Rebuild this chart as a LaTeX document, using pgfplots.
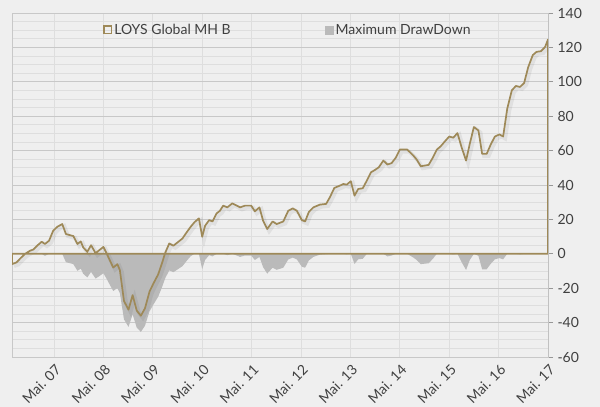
\documentclass[border=0pt]{standalone}
\usepackage{fontspec}
\setmainfont{Lato}
\usepackage{pgfplots}
\usepackage{pgfplotstable}
\pgfplotsset{compat=1.18}
\definecolor{bgc}{RGB}{239,239,239}
\definecolor{gold}{RGB}{158,137,88}
\definecolor{ddgray}{RGB}{186,186,186}
\definecolor{gridmaj}{RGB}{200,200,200}
\definecolor{gridmin}{RGB}{222,222,222}
\definecolor{axgray}{RGB}{150,150,150}
\definecolor{textc}{RGB}{64,64,64}

\pgfplotstableread{
m v dd
0 -6 0
1.1 -5 0
2.1 -2.5 0
3.2 0 0
4.4 1.8 0
5.2 2.5 0
6.1 4.7 0
7.2 7 0
8 5.7 -1.2
9 7.6 0
10 13.4 0
11 15.7 0
12.2 17.3 0
13.1 11.5 -4.9
14.3 10.7 -5.6
14.9 10.3 -6.0
15.9 5.7 -9.9
16.7 7.2 -8.6
17.3 3.7 -11.6
18.3 1.2 -13.7
19.2 5 -10.5
20.3 0.4 -14.4
21.2 2.1 -13.0
22.2 4 -11.3
23 0.2 -14.6
23.8 -4 -18.2
24.6 -8 -21.6
25.6 -6 -19.9
26.2 -9.5 -22.8
27.2 -27.4 -38.1
28.3 -32.5 -42.5
29.3 -24 -35.2
30.3 -33 -42.9
31.3 -36 -45.4
32.3 -31.7 -41.8
33.4 -22 -33.5
34.3 -17.5 -29.7
35.5 -12 -25.0
36.5 -5 -19.0
37.2 0.5 -14.3
38.2 6 -9.6
39.2 4.7 -10.7
40.2 6.6 -9.1
41.4 8.9 -7.2
42.4 12.4 -4.2
43.4 15.7 -1.4
44.3 18.3 0
45.4 20.6 0
46.2 9.9 -8.9
46.9 16.3 -3.6
47.9 19.6 -0.8
48.7 18.8 -1.5
49.7 23.5 0
50.5 25 0
51.3 28 0
52.3 27 -0.8
53.5 29.3 0
54.6 28 -1.0
55.4 27 -1.8
56.6 28 -1.0
58.1 28 -1.0
59 24.7 -3.6
60.1 27 -1.8
61 19.2 -7.8
62 14.4 -11.5
63.3 18.8 -8.1
64.3 17.3 -9.3
65.9 18.8 -8.1
67.1 25 -3.3
68.2 26.4 -2.2
69.2 25 -3.3
70.4 19.6 -7.5
71.2 18.8 -8.1
72.1 24.3 -3.9
73.2 27 -1.8
74.8 28.6 -0.5
76.3 29 -0.2
77.2 32.8 0
78.3 38.3 0
79.7 39.7 0
80.5 40.6 0
81.3 40.2 -0.3
82.3 42.2 0
83.2 33.8 -5.9
84.1 37.7 -3.2
85.2 38.1 -2.9
86.2 42.6 0
87.2 47.4 0
88.2 48.8 0
89.1 50.3 0
90.2 54.2 0
91.2 51.9 -1.5
92.2 52.7 -1.0
93.2 55.8 0
94.2 60.6 0
96 60.6 0
97.5 57.1 -2.2
98.3 54.8 -3.6
99.3 50.9 -6.0
101.2 51.7 -5.5
102.2 55.8 -3.0
103.2 60.6 0
104.1 62.4 0
105.2 65.5 0
106.2 68.2 0
107.2 67.5 -0.4
108.2 70.2 0
109.2 62 -4.8
110.3 54.2 -9.4
111.2 64 -3.6
112.2 73.7 0
113.3 71.7 -1.2
114.2 58.1 -9.0
115.3 58.1 -9.0
116.3 63.6 -5.8
117.3 68.2 -3.2
118.4 69.4 -2.5
119.3 68.2 -3.2
120.3 84.4 0
121.4 95 0
122.4 97.6 0
123.4 97 -0.3
124.4 99.3 0
125.4 108.6 0
126.5 115.5 0
127.4 117.4 0
128.5 117.8 0
129.5 120.3 0
130.2 124.6 0
}\datatab

\begin{document}
\begin{tikzpicture}
\path[use as bounding box, fill=bgc] (-12bp,-50bp) rectangle (588bp,357bp);
\begin{axis}[
  at={(0,0)}, anchor=south west,
  scale only axis, width=536bp, height=344bp,
  xmin=0, xmax=130.2, ymin=-60, ymax=140,
  xtick={10.2,22.2,34.2,46.2,58.2,70.2,82.2,94.2,106.2,118.2,130.2},
  xticklabels={Mai. 07,Mai. 08,Mai. 09,Mai. 10,Mai. 11,Mai. 12,Mai. 13,Mai. 14,Mai. 15,Mai. 16,Mai. 17},
  ytick={-60,-40,-20,0,20,40,60,80,100,120,140},
  yticklabels={-60,-40,-20,0,20,40,60,80,100,120,140},
  minor y tick num=3,
  xmajorgrids, ymajorgrids, yminorgrids,
  major x grid style={draw=gridmin, line width=0.9bp},
  major y grid style={draw=gridmaj, line width=0.9bp},
  minor y grid style={draw=gridmin, line width=0.9bp},
  axis line style={draw=gridmaj, line width=0.9bp},
  ytick pos=right, yticklabel pos=right,
  tick align=outside,
  major tick length=5bp, minor tick length=0pt,
  ytick style={draw=axgray, line width=0.8bp},
  xtick style={draw=none},
  minor tick style={draw=none},
  yticklabel style={font=\fontsize{14bp}{16bp}\selectfont, text=textc, xshift=1bp},
  xticklabel style={font=\fontsize{14bp}{16bp}\selectfont, text=textc, rotate=45, anchor=north east, xshift=3bp, yshift=2bp},
  legend columns=2,
  legend style={at={(rel axis cs:0.17,0.9506)}, anchor=west, draw=none, fill=none,
    inner sep=0pt, font=\fontsize{14bp}{16bp}\selectfont, text=textc,
    /tikz/every even column/.append style={column sep=92bp}},
  clip=true,
]
\addlegendimage{legend image code/.code={\draw[gold, line width=1.4bp] (0.7bp,-3.8bp) rectangle (8.3bp,3.8bp);}}
\addlegendentry{LOYS Global MH B}
\addlegendimage{legend image code/.code={\fill[ddgray] (0bp,-4bp) rectangle (8.5bp,4bp);}}
\addlegendentry{Maximum DrawDown}

\addplot[fill=ddgray, draw=none, forget plot] table[x=m, y=dd] {\datatab} \closedcycle;
\addplot[draw=black, opacity=0.06, line width=4bp, xshift=2bp, yshift=-2bp, forget plot] table[x=m, y=v] {\datatab};
\addplot[draw=gold, line width=1.7bp, fill=none, line join=round, forget plot] table[x=m, y=v] {\datatab} \closedcycle;
\draw[axgray, line width=1bp] (rel axis cs:1,0) -- (rel axis cs:1,1);
\end{axis}
\end{tikzpicture}
\end{document}
